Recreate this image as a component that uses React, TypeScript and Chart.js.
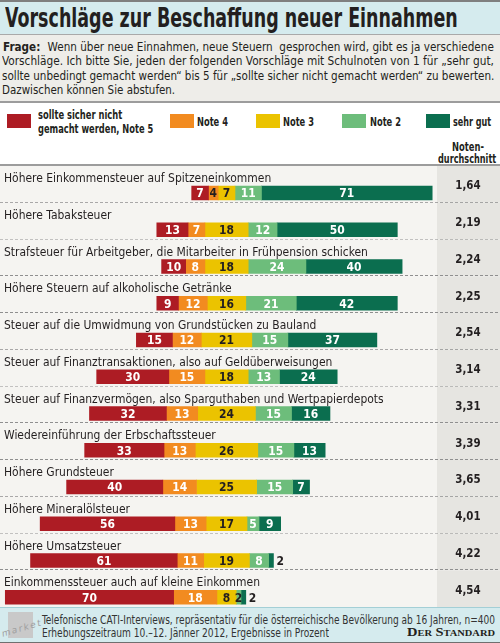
import React, { useEffect, useLayoutEffect, useRef, useState } from "react";
import { Chart, registerables } from "chart.js";

Chart.register(...registerables);

// ---------- data ----------
const categories = [
  "Höhere Einkommensteuer auf Spitzeneinkommen",
  "Höhere Tabaksteuer",
  "Strafsteuer für Arbeitgeber, die Mitarbeiter in Frühpension schicken",
  "Höhere Steuern auf alkoholische Getränke",
  "Steuer auf die Umwidmung von Grundstücken zu Bauland",
  "Steuer auf Finanztransaktionen, also auf Geldüberweisungen",
  "Steuer auf Finanzvermögen, also Sparguthaben und Wertpapierdepots",
  "Wiedereinführung der Erbschaftssteuer",
  "Höhere Grundsteuer",
  "Höhere Mineralölsteuer",
  "Höhere Umsatzsteuer",
  "Einkommenssteuer auch auf kleine Einkommen",
];
const note5 = [7, 13, 10, 9, 15, 30, 32, 33, 40, 56, 61, 70];
const note4 = [4, 7, 8, 12, 12, 15, 13, 13, 14, 13, 11, 18];
const note3 = [7, 18, 18, 16, 21, 18, 24, 26, 25, 17, 19, 8];
const note2 = [11, 12, 24, 21, 15, 13, 15, 15, 15, 5, 8, 2];
const note1 = [71, 50, 40, 42, 37, 24, 16, 13, 7, 9, 2, 2];
const averages = [1.64, 2.19, 2.24, 2.25, 2.54, 3.14, 3.31, 3.39, 3.65, 4.01, 4.22, 4.54];
const seriesNames = ["sollte sicher nicht gemacht werden, Note 5", "Note 4", "Note 3", "Note 2", "sehr gut"];
const seriesColors = ["#ad1c24", "#f28b20", "#ebc300", "#6dbd7b", "#0b6e4f"];
const seriesTextColors = ["#ffffff", "#ffffff", "#231f20", "#ffffff", "#ffffff"];

// ---------- layout constants ----------
const FONT = '"DejaVu Sans Condensed", "Liberation Sans Narrow", "Roboto Condensed", sans-serif';
const CENTER = 94.2; // x value where the middle of "Note 3" sits
const X_MAX = 181.7;
const CANVAS_TOP = 166;
const CANVAS_H = 477;
const ROW_H = 36.75;
const BAR_FROM_TOP = 27;
const PAD_TOP = BAR_FROM_TOP - ROW_H / 2;
const PAD_BOTTOM = CANVAS_H - ROW_H * 12 - PAD_TOP;

const series = [note5, note4, note3, note2, note1];

function buildRanges() {
  return series.map((_, d) =>
    categories.map((_, i) => {
      let start = CENTER - (note5[i] + note4[i] + note3[i] / 2);
      for (let k = 0; k < d; k++) start += series[k][i];
      return [start, start + series[d][i]];
    })
  );
}

function drawText(ctx: any, text: string, x: number, y: number, sx: number) {
  ctx.save();
  ctx.translate(x, y);
  ctx.scale(sx, 1);
  ctx.fillText(text, 0, 0);
  ctx.restore();
}

const rowsPlugin = {
  id: "rowsPlugin",
  beforeDatasetsDraw(chart: any) {
    const { ctx } = chart;
    const y = chart.scales.y;
    const W = chart.width;
    ctx.save();
    categories.forEach((label, i) => {
      const yc = y.getPixelForValue(i);
      const top = yc - BAR_FROM_TOP;
      ctx.fillStyle = "#f5f4f1";
      ctx.fillRect(0, top, 437, ROW_H);
      ctx.fillStyle = "#e6e5e1";
      ctx.fillRect(437, top, W - 437, ROW_H);
      if (i < categories.length - 1) {
        ctx.strokeStyle = "#8f8f8f";
        ctx.lineWidth = 1;
        ctx.setLineDash([3, 2]);
        ctx.beginPath();
        const yy = Math.round(top + ROW_H) - 0.5;
        ctx.moveTo(0, yy);
        ctx.lineTo(W, yy);
        ctx.stroke();
        ctx.setLineDash([]);
      }
      ctx.fillStyle = "#231f20";
      ctx.font = `13px ${FONT}`;
      ctx.textAlign = "left";
      ctx.textBaseline = "alphabetic";
      drawText(ctx, label, 4, top + 16, 0.92);
      ctx.font = `bold 13px ${FONT}`;
      ctx.textAlign = "center";
      ctx.textBaseline = "middle";
      drawText(ctx, averages[i].toFixed(2).replace(".", ","), 468, top + 20, 0.88);
    });
    ctx.restore();
  },
  afterDatasetsDraw(chart: any) {
    const { ctx } = chart;
    ctx.save();
    ctx.font = `bold 13px ${FONT}`;
    ctx.textBaseline = "middle";
    series.forEach((vals, d) => {
      const meta = chart.getDatasetMeta(d);
      meta.data.forEach((el: any, i: number) => {
        const v = vals[i];
        const x0 = Math.min(el.x, el.base);
        const x1 = Math.max(el.x, el.base);
        if (d === series.length - 1 && v < 5) {
          ctx.fillStyle = "#231f20";
          ctx.textAlign = "left";
          drawText(ctx, String(v), x1 + 3, el.y + 1, 0.92);
        } else {
          ctx.fillStyle = v < 5 ? "#231f20" : seriesTextColors[d];
          ctx.textAlign = "center";
          drawText(ctx, String(v), (x0 + x1) / 2, el.y + 1, 0.92);
        }
      });
    });
    ctx.restore();
  },
};

function BarsChart() {
  const ref = useRef<HTMLCanvasElement>(null);
  useEffect(() => {
    if (!ref.current) return;
    const ranges = buildRanges();
    const chart = new Chart(ref.current, {
      type: "bar",
      data: {
        labels: categories,
        datasets: series.map((_, d) => ({
          label: seriesNames[d],
          data: ranges[d] as any,
          backgroundColor: seriesColors[d],
          borderWidth: 0,
          barThickness: 14,
          grouped: false,
        })),
      },
      options: {
        indexAxis: "y",
        responsive: false,
        animation: false,
        events: [],
        layout: { padding: { left: 0, right: 63, top: PAD_TOP, bottom: PAD_BOTTOM } },
        scales: {
          x: { type: "linear", min: 0, max: X_MAX, display: false },
          y: { type: "category", display: false, offset: true },
        },
        plugins: { legend: { display: false }, tooltip: { enabled: false } },
      },
      plugins: [rowsPlugin],
    } as any);
    return () => chart.destroy();
  }, []);
  return (
    <canvas
      ref={ref}
      width={500}
      height={CANVAS_H}
      style={{ position: "absolute", left: 0, top: CANVAS_TOP, width: 500, height: CANVAS_H }}
    />
  );
}

// text squeezed horizontally to a target width
function Fit({ width, left, top, style, children }: any) {
  const ref = useRef<HTMLSpanElement>(null);
  const [s, setS] = useState(1);
  useLayoutEffect(() => {
    if (ref.current) {
      const w = ref.current.offsetWidth;
      if (w > 0) setS(width / w);
    }
  }, [width]);
  return (
    <span
      ref={ref}
      style={{
        position: "absolute",
        left,
        top,
        display: "inline-block",
        whiteSpace: "pre",
        transformOrigin: "left top",
        transform: `scaleX(${s})`,
        ...style,
      }}
    >
      {children}
    </span>
  );
}

const questionLines = [
  "Wenn über neue Einnahmen, neue Steuern  gesprochen wird, gibt es ja verschiedene",
  "Vorschläge. Ich bitte Sie, jeden der folgenden Vorschläge mit Schulnoten von 1 für „sehr gut,",
  "sollte unbedingt gemacht werden“ bis 5 für „sollte sicher nicht gemacht werden“ zu bewerten.",
  "Dazwischen können Sie abstufen.",
];
const questionWidths = [491, 492, 492, 173];

const legendBoxX = [7, 170, 256, 342, 426];
const legendTextX = [38, 197, 283, 370, 453];
const legendTextW = [31, 31, 31, 38];

export default function App() {
  return (
    <div
      style={{
        position: "absolute",
        left: 0,
        top: 0,
        width: 500,
        height: 643,
        overflow: "hidden",
        background: "#ffffff",
        fontFamily: FONT,
        color: "#231f20",
      }}
    >
      {/* title */}
      <div
        style={{
          position: "absolute",
          left: 0,
          top: 0,
          width: 500,
          height: 32,
          background: "#d5ebee",
          borderTop: "2px solid #7f7f7f",
          borderBottom: "1px solid #a9a9a9",
        }}
      >
        <Fit width={453} left={5} top={1} style={{ fontSize: 26, fontWeight: "bold", lineHeight: "30px" }}>
          Vorschläge zur Beschaffung neuer Einnahmen
        </Fit>
      </div>
      {/* question */}
      <div
        style={{
          position: "absolute",
          left: 0,
          top: 35,
          width: 500,
          height: 66,
          background: "#eeede9",
          borderBottom: "2px solid #9c9c9c",
        }}
      >
        {questionLines.map((l, i) => (
          <Fit
            key={i}
            width={questionWidths[i]}
            left={i === 0 ? 3 : 2}
            top={5 + i * 14.3}
            style={{ fontSize: 12.5, lineHeight: "14.3px" }}
          >
            {i === 0 ? <b>Frage:  </b> : null}
            {l}
          </Fit>
        ))}
      </div>
      {/* legend */}
      {seriesNames.map((n, i) => (
        <div key={n} style={{ position: "absolute", left: legendBoxX[i], top: 114, width: 24, height: 14, background: seriesColors[i] }} />
      ))}
      <Fit width={84} left={38} top={108} style={{ fontSize: 12.5, fontWeight: "bold", lineHeight: "13px" }}>
        sollte sicher nicht
      </Fit>
      <Fit width={115} left={38} top={121.5} style={{ fontSize: 12.5, fontWeight: "bold", lineHeight: "13px" }}>
        gemacht werden, Note 5
      </Fit>
      {seriesNames.slice(1).map((n, k) => (
        <Fit key={n} width={legendTextW[k]} left={legendTextX[k + 1]} top={115} style={{ fontSize: 12.5, fontWeight: "bold", lineHeight: "13px" }}>
          {n}
        </Fit>
      ))}
      <Fit width={32} left={452} top={139.5} style={{ fontSize: 12.5, fontWeight: "bold", lineHeight: "13px" }}>
        Noten-
      </Fit>
      <Fit width={58} left={437.5} top={151.5} style={{ fontSize: 12.5, fontWeight: "bold", lineHeight: "13px" }}>
        durchschnitt
      </Fit>
      <div style={{ position: "absolute", left: 0, top: 164, width: 500, height: 2, background: "#9c9c9c" }} />
      <BarsChart />
      {/* footer */}
      <div
        style={{
          position: "absolute",
          left: 0,
          top: 607,
          width: 500,
          height: 34,
          background: "#d5ebee",
          borderTop: "1px solid #a3cfd6",
          borderBottom: "2px solid #6f6f6f",
          zIndex: 2,
        }}
      >
        <div style={{ position: "absolute", left: 8, top: 4, width: 25, height: 26, background: "#c9c9c9" }} />
        <div
          style={{
            position: "absolute",
            left: 1,
            top: 15,
            fontSize: 9,
            fontStyle: "italic",
            color: "#a0a0a0",
            letterSpacing: 1.6,
            transform: "rotate(-16deg)",
            fontFamily: '"DejaVu Sans", sans-serif',
          }}
        >
          market
        </div>
        <Fit width={453} left={42} top={6} style={{ fontSize: 11.8, lineHeight: "12.5px", color: "#333" }}>
          Telefonische CATI-Interviews, repräsentativ für die österreichische Bevölkerung ab 16 Jahren, n=400
        </Fit>
        <Fit width={287} left={42} top={18.5} style={{ fontSize: 11.8, lineHeight: "12.5px", color: "#333" }}>
          Erhebungszeitraum 10.–12. Jänner 2012, Ergebnisse in Prozent
        </Fit>
        <Fit
          width={88}
          left={407}
          top={18}
          style={{
            fontFamily: '"Liberation Serif", "DejaVu Serif", serif',
            fontWeight: "bold",
            fontSize: 12.5,
            lineHeight: "13px",
            fontVariant: "small-caps",
            color: "#231f20",
          }}
        >
          Der Standard
        </Fit>
      </div>
    </div>
  );
}
